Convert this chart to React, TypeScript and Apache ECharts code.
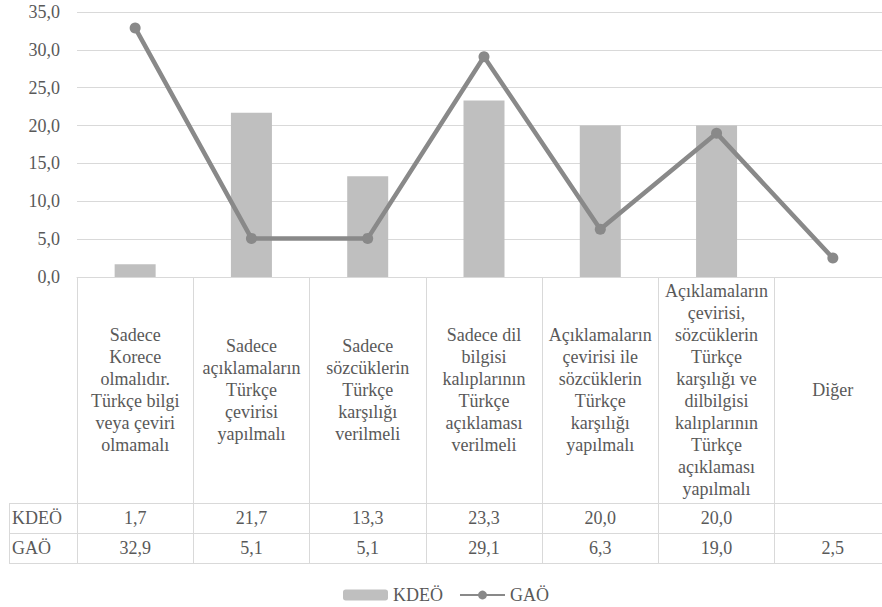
import React, { useEffect, useRef } from "react";
import * as echarts from "echarts";

const categories: string[] = [
  "Sadece\nKorece\nolmalıdır.\nTürkçe bilgi\nveya çeviri\nolmamalı",
  "Sadece\naçıklamaların\nTürkçe\nçevirisi\nyapılmalı",
  "Sadece\nsözcüklerin\nTürkçe\nkarşılığı\nverilmeli",
  "Sadece dil\nbilgisi\nkalıplarının\nTürkçe\naçıklaması\nverilmeli",
  "Açıklamaların\nçevirisi ile\nsözcüklerin\nTürkçe\nkarşılığı\nyapılmalı",
  "Açıklamaların\nçevirisi,\nsözcüklerin\nTürkçe\nkarşılığı ve\ndilbilgisi\nkalıplarının\nTürkçe\naçıklaması\nyapılmalı",
  "Diğer",
];
const kdeo: (number | null)[] = [1.7, 21.7, 13.3, 23.3, 20.0, 20.0, null];
const gao: number[] = [32.9, 5.1, 5.1, 29.1, 6.3, 19.0, 2.5];
const seriesNames = ["KDEÖ", "GAÖ"];
const yTicks = { min: 0, max: 35, interval: 5 };

const FONT = "Liberation Serif";
const TEXT = "#595959";
const LINE = "#d9d9d9";

const fmt = (v: number | null) => (v === null || v === undefined ? "" : v.toFixed(1).replace(".", ","));

export default function App() {
  const ref = useRef<HTMLDivElement>(null);
  useEffect(() => {
    if (!ref.current) return;
    const chart = echarts.init(ref.current, undefined, { renderer: "svg" });
    const gridLeft = 77;
    const gridTop = 12;
    const gridBottomY = 277;
    const rowA = 503;
    const rowB = 533;
    const rowC = 563;
    const valueAxis = (data: string[], margin: number) => ({
      type: "category",
      gridIndex: 0,
      position: "bottom",
      data,
      axisLine: { show: false },
      axisTick: { show: false },
      splitLine: { show: false },
      axisLabel: {
        interval: 0,
        margin,
        verticalAlign: "middle",
        fontFamily: FONT,
        fontSize: 18,
        color: TEXT,
      },
    });
    chart.setOption({
      animation: false,
      textStyle: { fontFamily: FONT, fontSize: 18 },
      grid: { left: gridLeft, top: gridTop, width: 814, height: gridBottomY - gridTop },
      legend: {
        data: seriesNames,
        top: 581,
        left: 338,
        itemWidth: 45,
        itemHeight: 11,
        itemGap: 16,
        textStyle: { fontFamily: FONT, fontSize: 18, color: TEXT },
      },
      xAxis: [
        {
          type: "category",
          data: categories,
          boundaryGap: true,
          axisLine: { show: true, lineStyle: { color: LINE, width: 1 } },
          axisTick: {
            show: true,
            alignWithLabel: false,
            length: rowC - gridBottomY,
            lineStyle: { color: LINE, width: 1 },
          },
          axisLabel: {
            interval: 0,
            margin: (rowA - gridBottomY) / 2,
            verticalAlign: "middle",
            align: "center",
            fontFamily: FONT,
            fontSize: 18,
            lineHeight: 22,
            color: TEXT,
          },
        },
        valueAxis(kdeo.map(fmt), (rowA + rowB) / 2 - gridBottomY),
        valueAxis(gao.map(fmt), (rowB + rowC) / 2 - gridBottomY),
      ],
      yAxis: {
        type: "value",
        min: yTicks.min,
        max: yTicks.max,
        interval: yTicks.interval,
        axisLine: { show: false },
        axisTick: { show: false },
        splitLine: { lineStyle: { color: LINE, width: 1 } },
        axisLabel: {
          formatter: (v: number) => fmt(v),
          fontFamily: FONT,
          fontSize: 18,
          color: TEXT,
          margin: 17,
        },
      },
      series: [
        {
          name: seriesNames[0],
          type: "bar",
          xAxisIndex: 0,
          data: kdeo,
          barWidth: 41,
          itemStyle: { color: "#bfbfbf" },
        },
        {
          name: seriesNames[1],
          type: "line",
          xAxisIndex: 0,
          data: gao,
          symbol: "circle",
          symbolSize: 11,
          lineStyle: { color: "#898989", width: 4.5 },
          itemStyle: { color: "#898989" },
        },
      ],
      graphic: [
        ...[rowA, rowB, rowC].map((y) => ({
          type: "line",
          shape: { x1: 9, y1: y + 0.5, x2: 900, y2: y + 0.5 },
          style: { stroke: LINE, lineWidth: 1 },
        })),
        {
          type: "line",
          shape: { x1: 9.5, y1: rowA, x2: 9.5, y2: rowC },
          style: { stroke: LINE, lineWidth: 1 },
        },
        {
          type: "text",
          x: 12,
          y: (rowA + rowB) / 2,
          style: { text: seriesNames[0], fontFamily: FONT, fontSize: 18, fill: TEXT, verticalAlign: "middle" },
        },
        {
          type: "text",
          x: 12,
          y: (rowB + rowC) / 2,
          style: { text: seriesNames[1], fontFamily: FONT, fontSize: 18, fill: TEXT, verticalAlign: "middle" },
        },
      ],
    });
    return () => chart.dispose();
  }, []);
  return (
    <div
      id="chartbox"
      style={{ position: "absolute", left: 0, top: 0, width: 882, height: 607, overflow: "hidden", background: "#fff" }}
    >
      <style>{"#chartbox svg text { font-family: 'Liberation Serif', serif !important; }"}</style>
      <div ref={ref} style={{ width: 900, height: 607 }} />
    </div>
  );
}
